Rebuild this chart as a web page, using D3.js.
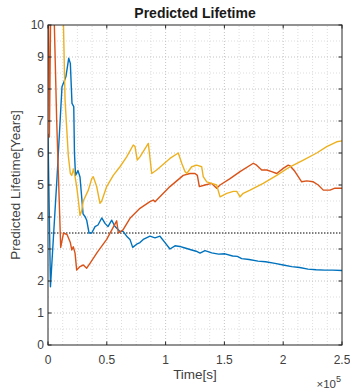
<!DOCTYPE html>
<html><head><meta charset="utf-8">
<script src="https://cdn.jsdelivr.net/npm/d3@7"></script>
<style>
body{margin:0;background:#fff;}
text{font-family:"Liberation Sans",Arial,Helvetica,sans-serif;}
</style></head>
<body><svg id="c" width="350" height="392"></svg>
<script>
// Time in seconds, predicted lifetime in years
const timeBlue = [0,2100,7700,11900,14200,15300,17600,19000,20400,21900,22500,23400,25500,27200,28700,29800,31700,32900,34900,37200,40000,42500,45700,48500,51000,54200,57000,61200,63800,66900,69700,72000,75400,78200,81000,86700,91000,95200,99500,103700,108000,112000,116500,122200,126000,129300,133500,139200,145000,150500,157000,161000,164700,171000,178600,185000,193000,200000,207200,214000,221100,228000,235500,242000,250000];
const lifeBlue = [6.6,1.82,5.26,8.07,8.28,8.4,8.96,8.8,7.55,7.45,6.0,5.3,5.45,5.25,4.6,4.1,4.0,3.9,3.5,3.5,3.7,3.75,3.97,3.8,3.7,3.9,3.7,3.55,3.55,3.4,3.3,3.05,3.15,3.2,3.3,3.4,3.35,3.4,3.2,3.0,3.1,3.08,3.03,2.97,2.93,2.87,2.95,2.88,2.84,2.85,2.78,2.77,2.7,2.67,2.62,2.6,2.55,2.5,2.45,2.42,2.37,2.35,2.34,2.34,2.33];

const timeOrange = [0,1200,2700,3400,7400,10800,13200,16200,19000,20200,21500,23000,24400,27200,30000,32900,35700,42000,49900,58400,59800,63800,69700,78200,86700,89500,91000,103700,115000,120700,125000,127000,128700,133500,139200,143400,146300,154800,163300,174600,177400,181700,186000,190200,194500,200000,204300,205800,210000,212800,215700,220000,225600,229800,234100,239800,244000,250000];
const lifeOrange = [12,6.5,12,13,7.0,3.05,3.5,3.45,3.2,2.97,3.07,2.87,2.34,2.45,2.5,2.4,2.55,2.9,3.3,3.88,3.5,3.6,3.96,4.27,4.48,4.53,4.48,4.95,5.3,5.36,5.36,5.3,4.95,5.0,5.05,4.9,5.0,5.2,5.42,5.68,5.62,5.47,5.47,5.42,5.36,5.52,5.62,5.6,5.42,5.26,5.1,5.13,5.1,5.0,4.84,4.84,4.9,4.9];

const timeYellow = [12000,14500,17300,19000,20200,21700,23000,24400,25900,27200,28700,30000,34300,37200,38500,41400,44200,45700,49900,55500,61200,66900,72500,74000,75900,78200,85300,88200,92400,103700,110800,113700,116500,118000,122200,126400,130700,132000,135000,139200,143400,146300,152000,157600,160500,163300,166000,171800,183000,194500,205800,217100,228500,237000,245500,250000];
const lifeYellow = [12,7.66,5.9,5.36,5.3,5.5,5.26,4.95,4.5,4.05,4.2,4.5,4.84,5.2,5.26,4.95,4.43,4.5,4.95,5.3,5.57,5.88,6.25,6.2,5.78,5.88,6.3,5.36,5.47,5.83,6.0,5.68,5.42,5.36,5.57,5.62,5.57,5.26,5.1,5.05,5.0,4.63,4.74,4.8,4.8,4.63,4.74,4.84,5.05,5.3,5.57,5.78,6.0,6.2,6.35,6.38];

const threshold = 3.5;
const xTicks = [0,50000,100000,150000,200000,250000];
const xTickLabels = ["0","0.5","1","1.5","2","2.5"];
const yTicks = [0,1,2,3,4,5,6,7,8,9,10];

const W=350,H=392, m={l:48,r:8,t:25,b:47};
const svg=d3.select("#c");
const x=d3.scaleLinear().domain([0,250000]).range([m.l,W-m.r]);
const y=d3.scaleLinear().domain([0,10]).range([H-m.b,m.t]);

svg.append("rect").attr("x",m.l).attr("y",m.t).attr("width",x.range()[1]-m.l).attr("height",y(0)-m.t).attr("fill","#fff");

// minor grid
const gGrid=svg.append("g");
const minorX=d3.range(0,250001,12500).filter(v=>v%50000!==0);
const minorY=d3.range(0.5,10,1);
gGrid.selectAll(".mx").data(minorX).join("line").attr("x1",d=>x(d)).attr("x2",d=>x(d)).attr("y1",y(0)).attr("y2",y(10))
  .attr("stroke","#d4d4d4").attr("stroke-width",0.8).attr("stroke-dasharray","1,2");
gGrid.selectAll(".my").data(minorY).join("line").attr("x1",x(0)).attr("x2",x(250000)).attr("y1",d=>y(d)).attr("y2",d=>y(d))
  .attr("stroke","#d4d4d4").attr("stroke-width",0.8).attr("stroke-dasharray","1,2");
// major grid
gGrid.selectAll(".Mx").data(xTicks.slice(1,-1)).join("line").attr("x1",d=>x(d)).attr("x2",d=>x(d)).attr("y1",y(0)).attr("y2",y(10))
  .attr("stroke","#bdbdbd").attr("stroke-width",0.9).attr("stroke-dasharray","1,2");
gGrid.selectAll(".My").data(yTicks.slice(1,-1)).join("line").attr("x1",x(0)).attr("x2",x(250000)).attr("y1",d=>y(d)).attr("y2",d=>y(d))
  .attr("stroke","#bdbdbd").attr("stroke-width",0.9).attr("stroke-dasharray","1,2");

svg.append("clipPath").attr("id","clip").append("rect").attr("x",m.l).attr("y",m.t).attr("width",x.range()[1]-m.l).attr("height",y(0)-m.t);
const plot=svg.append("g").attr("clip-path","url(#clip)");

plot.append("line").attr("x1",x(0)).attr("x2",x(250000)).attr("y1",y(threshold)).attr("y2",y(threshold))
  .attr("stroke","#111").attr("stroke-width",1).attr("stroke-dasharray","1.5,1.5");

const line=d3.line().x(d=>x(d[0])).y(d=>y(d[1]));
const series=[
  {t:timeBlue,v:lifeBlue,c:"#0072BD"},
  {t:timeOrange,v:lifeOrange,c:"#D95319"},
  {t:timeYellow,v:lifeYellow,c:"#EDB120"}
];
series.forEach(s=>{
  plot.append("path").attr("d",line(s.t.map((t,i)=>[t,s.v[i]]))).attr("fill","none")
   .attr("stroke",s.c).attr("stroke-width",1.4).attr("stroke-linejoin","round");
});

// axes
const axisCol="#262626";
const ax=svg.append("g");
ax.append("rect").attr("x",m.l).attr("y",m.t).attr("width",x.range()[1]-m.l).attr("height",y(0)-m.t)
  .attr("fill","none").attr("stroke",axisCol).attr("stroke-width",1);
const tl=3.5;
xTicks.forEach(v=>{
  ax.append("line").attr("x1",x(v)).attr("x2",x(v)).attr("y1",y(0)).attr("y2",y(0)-tl).attr("stroke",axisCol);
  ax.append("line").attr("x1",x(v)).attr("x2",x(v)).attr("y1",y(10)).attr("y2",y(10)+tl).attr("stroke",axisCol);
});
yTicks.forEach(v=>{
  ax.append("line").attr("x1",x(0)).attr("x2",x(0)+tl).attr("y1",y(v)).attr("y2",y(v)).attr("stroke",axisCol);
  ax.append("line").attr("x1",x(250000)).attr("x2",x(250000)-tl).attr("y1",y(v)).attr("y2",y(v)).attr("stroke",axisCol);
});
const txtCol="#404040";
ax.selectAll(".xl").data(xTicks).join("text").attr("x",d=>x(d)).attr("y",y(0)+19).attr("text-anchor","middle")
  .attr("font-size",12).attr("fill",txtCol).text((d,i)=>xTickLabels[i]);
ax.selectAll(".yl").data(yTicks).join("text").attr("x",x(0)-4).attr("y",d=>y(d)+4.3).attr("text-anchor","end")
  .attr("font-size",12).attr("fill",txtCol).text(d=>d);

svg.append("text").attr("x",(m.l+W-m.r)/2).attr("y",18).attr("text-anchor","middle").attr("font-size",14)
  .attr("font-weight","bold").attr("fill","#1a1a1a").text("Predicted Lifetime");
svg.append("text").attr("x",(m.l+W-m.r)/2).attr("y",379).attr("text-anchor","middle").attr("font-size",13.5)
  .attr("fill",txtCol).text("Time[s]");
svg.append("text").attr("transform",`translate(20,${(m.t+H-m.b)/2}) rotate(-90)`).attr("text-anchor","middle")
  .attr("font-size",13.5).attr("fill",txtCol).text("Predicted Lifetime[Years]");
const ex=svg.append("text").attr("x",W-m.r-1).attr("y",388).attr("text-anchor","end").attr("font-size",11.5).attr("fill",txtCol);
ex.append("tspan").text("×10");
ex.append("tspan").attr("dy",-6).attr("font-size",9).text("5");
</script></body></html>
